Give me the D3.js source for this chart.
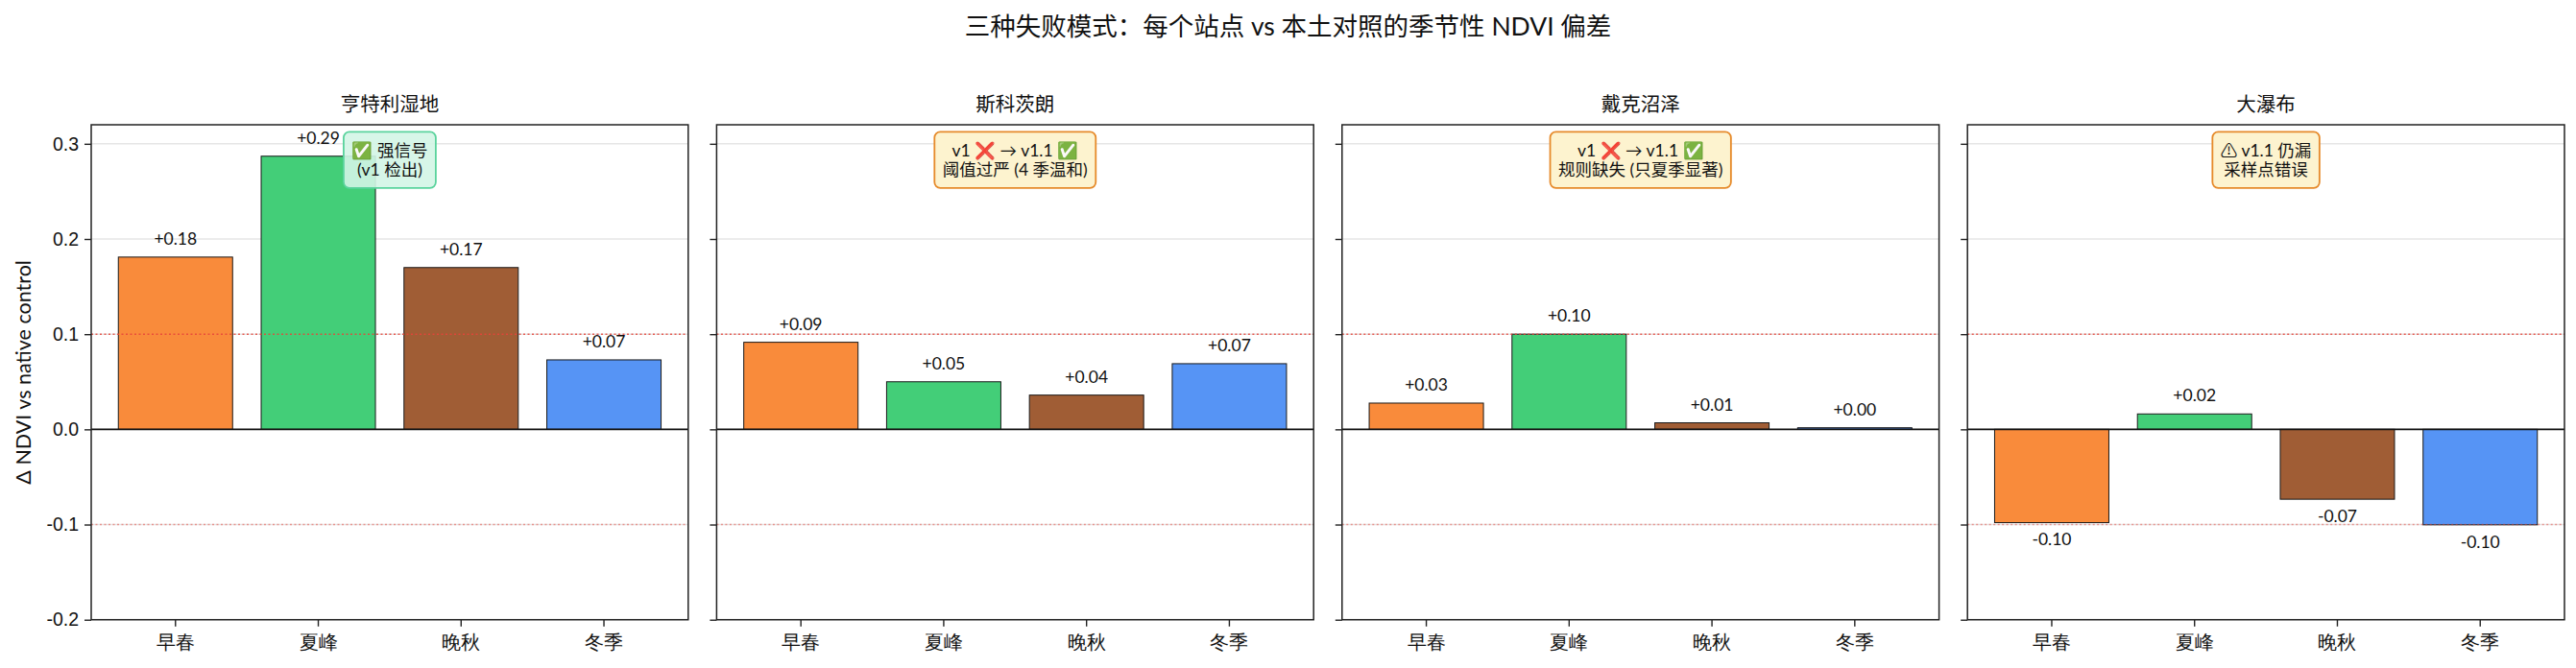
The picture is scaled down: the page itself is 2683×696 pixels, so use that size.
<!DOCTYPE html>
<html>
<head>
<meta charset="utf-8">
<script src="https://cdn.jsdelivr.net/npm/d3@7"></script>
<style>
  body { margin: 0; background: #fff; }
  svg { font-family: "Lato", "Noto Sans CJK SC", sans-serif; }
</style>
</head>
<body>
<div id="chart"></div>
<script>
// chart data
const seasons = ["早春", "夏峰", "晚秋", "冬季"];
const sites = ["亨特利湿地", "斯科茨朗", "戴克沼泽", "大瀑布"];
const huntlyValues = [0.181, 0.287, 0.170, 0.073];
const scottsValues = [0.0915, 0.050, 0.036, 0.069];
const dykeValues = [0.0276, 0.100, 0.0069, 0.0017];
const fallsValues = [-0.098, 0.0162, -0.0734, -0.1003];
const siteNotes = [
  ["✅ 强信号", "(v1 检出)"],
  ["v1 ❌ → v1.1 ✅", "阈值过严 (4 季温和)"],
  ["v1 ❌ → v1.1 ✅", "规则缺失 (只夏季显著)"],
  ["⚠ v1.1 仍漏", "采样点错误"]
];
const noteStyles = ["good", "warn", "warn", "warn"];
const yTicks = [-0.2, -0.1, 0.0, 0.1, 0.2, 0.3];
const thresholds = [0.1, -0.1];

const siteValues = [huntlyValues, scottsValues, dykeValues, fallsValues];

// layout
const width = 2683;
const height = 696;
const margin = { top: 130, left: 95, bottom: 50.3, right: 12 };
const panelGap = 29.6;
const panelWidth = (width - margin.left - margin.right - 3 * panelGap) / 4;

const seasonColors = {
  "早春": "#f98b3b",
  "夏峰": "#43ce78",
  "晚秋": "#a05d35",
  "冬季": "#5694f5"
};

const boxColors = {
  good: { fill: "#d3f5e5", stroke: "#5ad39d", opacity: 0.9 },
  warn: { fill: "#fdf3cf", stroke: "#e68a2a", opacity: 1 }
};

const svg = d3
  .select("#chart")
  .append("svg")
  .attr("width", width)
  .attr("height", height);

const y = d3
  .scaleLinear()
  .domain([-0.2, 0.32])
  .range([height - margin.bottom, margin.top]);

const x = d3
  .scaleBand()
  .domain(seasons)
  .range([0, panelWidth])
  .paddingInner(0.2)
  .paddingOuter(0.19);

function fmtValue(v) {
  return (v >= 0 ? "+" : "-") + Math.abs(v).toFixed(2);
}

// main title
svg
  .append("text")
  .attr("x", width / 2)
  .attr("y", 37)
  .attr("text-anchor", "middle")
  .attr("font-size", 26.5)
  .attr("fill", "#111")
  .text("三种失败模式：每个站点 vs 本土对照的季节性 NDVI 偏差");

// y axis label
svg
  .append("text")
  .attr("transform", "translate(32," + (margin.top + (height - margin.bottom)) / 2 + ") rotate(-90)")
  .attr("text-anchor", "middle")
  .attr("font-size", 21.5)
  .attr("fill", "#111")
  .text("Δ NDVI vs native control");

sites.forEach(function(site, i) {
  drawPanel(site, siteValues[i], siteNotes[i], noteStyles[i], i);
});

function drawPanel(site, values, note, style, idx) {
  const left = margin.left + idx * (panelWidth + panelGap);
  const plotBottom = height - margin.bottom;
  const g = svg.append("g").attr("transform", "translate(" + left + ",0)");

  // grid
  g.append("g")
    .selectAll("line")
    .data(yTicks)
    .enter()
    .append("line")
    .attr("x1", 0)
    .attr("x2", panelWidth)
    .attr("y1", d => y(d))
    .attr("y2", d => y(d))
    .attr("stroke", "#e6e6e6")
    .attr("stroke-width", 1.5);

  // bars
  g.append("g")
    .selectAll("rect")
    .data(seasons)
    .enter()
    .append("rect")
    .attr("x", d => x(d))
    .attr("width", x.bandwidth())
    .attr("y", (d, i) => y(Math.max(0, values[i])))
    .attr("height", (d, i) => Math.abs(y(values[i]) - y(0)))
    .attr("fill", d => seasonColors[d])
    .attr("stroke", "#1a1a1a")
    .attr("stroke-width", 1);

  // threshold lines
  g.append("g")
    .selectAll("line")
    .data(thresholds)
    .enter()
    .append("line")
    .attr("x1", 0)
    .attr("x2", panelWidth)
    .attr("y1", d => y(d))
    .attr("y2", d => y(d))
    .attr("stroke", "#e8443a")
    .attr("stroke-width", 1.6)
    .attr("stroke-dasharray", "2,2.5")
    .attr("opacity", d => (d > 0 ? 0.85 : 0.5));

  // zero line
  g.append("line")
    .attr("x1", 0)
    .attr("x2", panelWidth)
    .attr("y1", y(0))
    .attr("y2", y(0))
    .attr("stroke", "#111")
    .attr("stroke-width", 1.6);

  // axes
  const yAxis = g
    .append("g")
    .call(
      d3.axisLeft(y)
        .tickValues(yTicks)
        .tickSize(7)
        .tickPadding(6)
        .tickFormat(d => (idx === 0 ? (d < 0 ? "-" : "") + Math.abs(d).toFixed(1) : ""))
    );
  yAxis.select(".domain").remove();
  yAxis.selectAll("line").attr("stroke", "#222").attr("stroke-width", 1.4);
  yAxis.selectAll("text").attr("font-size", 19.5).attr("fill", "#111");

  const xAxis = g
    .append("g")
    .attr("transform", "translate(0," + plotBottom + ")")
    .call(d3.axisBottom(x).tickSize(7).tickPadding(9));
  xAxis.select(".domain").remove();
  xAxis.selectAll("line").attr("stroke", "#222").attr("stroke-width", 1.4);
  xAxis.selectAll("text").attr("font-size", 19.5).attr("fill", "#111");

  // frame
  g.append("rect")
    .attr("x", 0)
    .attr("y", margin.top)
    .attr("width", panelWidth)
    .attr("height", plotBottom - margin.top)
    .attr("fill", "none")
    .attr("stroke", "#222")
    .attr("stroke-width", 1.5);

  // value labels
  g.append("g")
    .selectAll("text")
    .data(seasons)
    .enter()
    .append("text")
    .attr("x", d => x(d) + x.bandwidth() / 2)
    .attr("y", (d, i) => {
      const v = values[i];
      return v >= 0 ? y(v + 0.01) - 3 : y(v - 0.01) + 14;
    })
    .attr("text-anchor", "middle")
    .attr("font-size", 17.5)
    .attr("fill", "#111")
    .text((d, i) => fmtValue(values[i]));

  // subplot title
  g.append("text")
    .attr("x", panelWidth / 2)
    .attr("y", 116)
    .attr("text-anchor", "middle")
    .attr("font-size", 20.5)
    .attr("fill", "#111")
    .text(site);

  // annotation box
  const box = g.append("g");
  const colors = boxColors[style];
  const rect = box.append("rect");
  const txt = box
    .append("text")
    .attr("text-anchor", "middle")
    .attr("font-size", 17.5)
    .attr("fill", "#111");
  note.forEach(function(line, k) {
    txt.append("tspan")
      .attr("x", panelWidth / 2)
      .attr("dy", k === 0 ? 0 : 20.5)
      .text(line);
  });
  const pad = 8.5;
  const boxTop = 137.3;
  const bb = txt.node().getBBox();
  const shift = boxTop + pad - bb.y;
  txt.attr("transform", "translate(0," + shift + ")");
  rect
    .attr("x", bb.x - pad)
    .attr("y", boxTop)
    .attr("width", bb.width + 2 * pad)
    .attr("height", bb.height + 2 * pad)
    .attr("rx", 6)
    .attr("fill", colors.fill)
    .attr("fill-opacity", colors.opacity)
    .attr("stroke", colors.stroke)
    .attr("stroke-width", 1.8);
}
</script>
</body>
</html>
